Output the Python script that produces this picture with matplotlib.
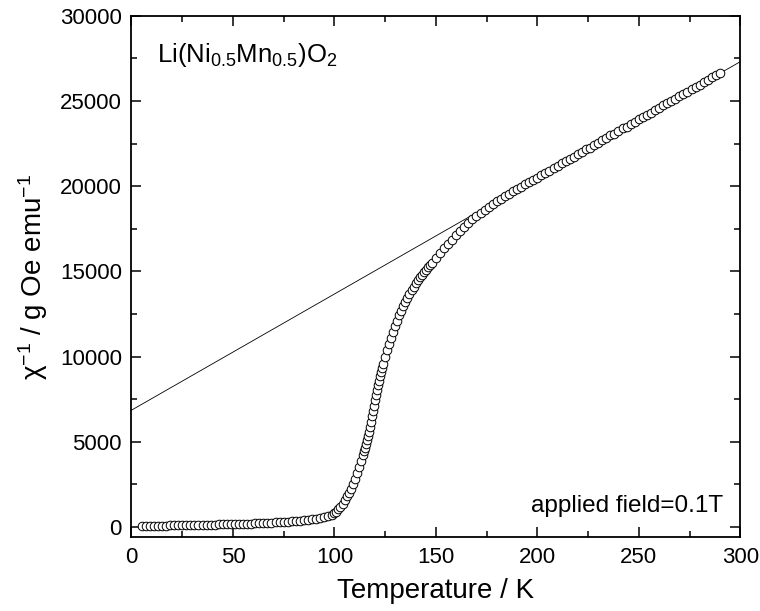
import matplotlib
matplotlib.use("Agg")
import matplotlib.pyplot as plt
from matplotlib.ticker import MultipleLocator

plt.rcParams['font.family'] = ['Liberation Sans', 'DejaVu Sans']
plt.rcParams['mathtext.fontset'] = 'custom'
plt.rcParams['mathtext.rm'] = 'Liberation Sans'
plt.rcParams['mathtext.it'] = 'Liberation Sans:italic'
plt.rcParams['mathtext.default'] = 'regular'

# Inverse susceptibility vs temperature (K, g Oe emu^-1)
temperature = [
    5, 7, 9, 11, 13, 15, 17, 19, 21, 23, 25, 27, 29, 31, 33, 35, 37, 39,
    41, 43, 45, 47, 49, 51, 53, 55, 57, 59, 61, 63, 65, 67, 69, 71, 73, 75,
    77, 79, 81, 83, 85, 87, 89, 91, 93, 95, 97, 99,
    100, 101, 102, 103, 104, 105, 106, 107, 108, 109, 110, 111, 112, 113,
    114, 114.5, 115, 115.5, 116, 116.5, 117, 117.5, 118, 118.5, 119, 119.5,
    120, 120.5, 121, 121.5, 122, 122.5, 123, 123.5, 124,
    125, 126, 127, 128, 129, 130, 131, 132, 133, 134, 135, 136, 137, 138,
    139, 140, 141, 142, 143, 144, 145, 146, 147, 148,
    150, 152, 154, 156, 158, 160, 162, 164, 166, 168, 170, 172, 174, 176,
    178, 180, 182, 184, 186, 188, 190, 192, 194, 196, 198, 200, 202, 204,
    206, 208, 210, 212, 214, 216, 218, 220, 222, 224, 226, 228, 230, 232,
    234, 236, 238, 240, 242, 244, 246, 248, 250, 252, 254, 256, 258, 260,
    262, 264, 266, 268, 270, 272, 274, 276, 278, 280, 282, 284, 286, 288,
    290,
]
inv_chi = [
    60, 62, 65, 68, 72, 75, 78, 82, 86, 90, 94, 98, 102, 107, 112, 117, 122,
    127, 133, 139, 145, 152, 158, 165, 172, 180, 188, 196, 205, 214, 224,
    234, 245, 257, 270, 284, 300, 318, 338, 360, 385, 412, 442, 475, 512,
    555, 620, 720,
    800, 900, 1030, 1190, 1370, 1570, 1790, 2000, 2230, 2520, 2830, 3160,
    3500, 3860,
    4230, 4430, 4640, 4860, 5090, 5340, 5590, 5880, 6170, 6480, 6800, 7120,
    7440, 7740, 8030, 8310, 8590, 8860, 9120, 9350, 9580,
    9990, 10360, 10710, 11080, 11440, 11780, 12100, 12410, 12700, 12970,
    13220, 13460, 13690, 13900, 14100, 14290, 14470, 14640, 14800, 14950,
    15090, 15230, 15370, 15500,
    15800, 16080, 16350, 16610, 16860, 17150, 17390, 17620, 17840, 18050,
    18250, 18440, 18620, 18790, 18960, 19120, 19270, 19420, 19560, 19700,
    19830, 19960, 20110, 20240, 20390, 20510, 20640, 20790, 20910, 21060,
    21190, 21340, 21460, 21620, 21730, 21880, 22010, 22170, 22270, 22430,
    22550, 22700, 22820, 22980, 23090, 23240, 23390, 23490, 23660, 23770,
    23930, 24050, 24210, 24310, 24480, 24590, 24740, 24870, 25030, 25130,
    25290, 25410, 25560, 25690, 25840, 25950, 26110, 26230, 26400, 26510,
    26640,
]

# Curie-Weiss fit line, evaluated at the axis ends
fit_temperature = [0, 300]
fit_inv_chi = [6850, 27310]

fig = plt.figure(figsize=(7.6, 6.11), dpi=100)
ax = fig.add_axes([0.173, 0.121, 0.801, 0.853])

ax.plot(fit_temperature, fit_inv_chi, color='black', lw=0.6, zorder=2)
ax.plot(temperature, inv_chi, linestyle='none', marker='o', ms=6.2,
        mfc='white', mec='black', mew=0.7, zorder=3)

ax.set_xlim(0, 300)
ax.set_ylim(-600, 30000)
ax.xaxis.set_major_locator(MultipleLocator(50))
ax.xaxis.set_minor_locator(MultipleLocator(25))
ax.yaxis.set_major_locator(MultipleLocator(5000))
ax.yaxis.set_minor_locator(MultipleLocator(2500))

for side in ax.spines.values():
    side.set_linewidth(1.3)
ax.tick_params(which='both', direction='in', top=True, right=True,
               labelsize=16, width=1.1, pad=7)
ax.tick_params(which='major', length=7)
ax.tick_params(which='minor', length=4)

ax.set_xlabel('Temperature / K', fontsize=20, labelpad=7)
ax.set_ylabel(r'$\chi^{-1}$ / g Oe emu$^{-1}$', fontsize=20, labelpad=7)

ax.text(0.042, 0.912, r'Li(Ni$_{0.5}$Mn$_{0.5}$)O$_2$', transform=ax.transAxes,
        fontsize=18.5, ha='left', va='baseline')
ax.text(0.972, 0.048, 'applied field=0.1T', transform=ax.transAxes,
        fontsize=17.5, ha='right', va='baseline')

fig.savefig('out.png', dpi=100)
